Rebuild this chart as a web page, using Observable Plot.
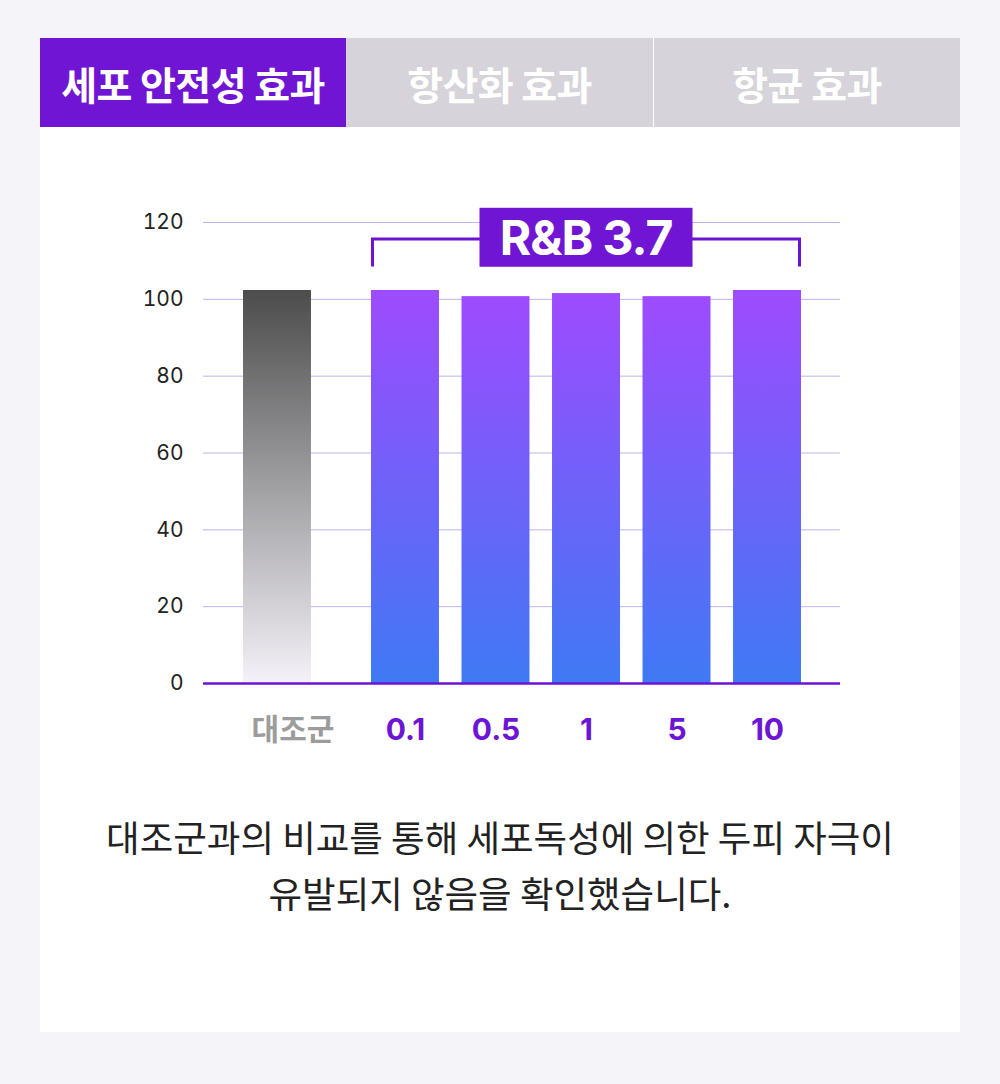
<!DOCTYPE html>
<html><head><meta charset="utf-8">
<script src="https://cdn.jsdelivr.net/npm/d3@7"></script>
<script src="https://cdn.jsdelivr.net/npm/@observablehq/plot@0.6"></script>
<style>
html,body{margin:0;padding:0;background:#f5f4f9;}
body{width:1000px;height:1084px;position:relative;font-family:Inter,"Noto Sans CJK KR",sans-serif;overflow:hidden;}
#card{position:absolute;left:40px;top:38px;width:920px;height:994px;background:#fff;}
.tabs{display:flex;height:89px;}
.tab{display:flex;align-items:center;justify-content:center;color:#fff;font-family:"Noto Sans CJK KR",sans-serif;font-weight:700;font-size:39px;letter-spacing:-0.6px;}
.t1{width:306px;background:#7115d4;}
.t2{width:307px;background:#d6d4da;border-right:1px solid #fff;}
.t3{width:306px;background:#d6d4da;}
#chart{position:absolute;left:0;top:150px;}
#caption{position:absolute;left:0;top:771px;width:920px;text-align:center;font-family:"Noto Sans CJK KR",sans-serif;font-size:36.5px;line-height:56px;color:#222;letter-spacing:0px;}
</style></head>
<body>
<div id="card">
  <div class="tabs" id="tabs"></div>
  <div id="chart"></div>
  <div id="caption"></div>
</div>
<script>
const tabLabels = ["세포 안전성 효과", "항산화 효과", "항균 효과"];
const categories = ["대조군", "0.1", "0.5", "1", "5", "10"];
const values = [102.3, 102.3, 100.7, 101.5, 100.7, 102.3];
const yTicks = [0, 20, 40, 60, 80, 100, 120];
const bracketLabel = "R&B 3.7";
const captionLines = ["대조군과의 비교를 통해 세포독성에 의한 두피 자극이", "유발되지 않음을 확인했습니다."];

const tabs = document.getElementById("tabs");
tabLabels.forEach((t, i) => {
  const d = document.createElement("div");
  d.className = "tab t" + (i + 1);
  d.textContent = t;
  tabs.appendChild(d);
});
document.getElementById("caption").innerHTML = captionLines.join("<br>");

const data = categories.map((c, i) => ({cat: c, v: values[i], control: i === 0}));
const control = data.filter(d => d.control);
const treated = data.filter(d => !d.control);

const plot = Plot.plot({
  width: 920,
  height: 560,
  marginLeft: 163,
  marginRight: 120,
  marginTop: 34,
  marginBottom: 65,
  style: {background: "transparent", fontFamily: "Inter, 'Noto Sans CJK KR', sans-serif"},
  x: {type: "band", domain: categories, range: [240.5, 761], paddingInner: 0.249, paddingOuter: 0, round: false, axis: null},
  y: {domain: [0, 120], ticks: yTicks, label: null},
  marks: [
    Plot.ruleY(yTicks.slice(1), {stroke: "#bdb2ef", strokeWidth: 1}),
    Plot.barY(control, {x: "cat", y: "v", fill: "url(#gGray)", dx: -37.5}),
    Plot.barY(treated, {x: "cat", y: "v", fill: "url(#gPurple)"}),
    Plot.ruleY([0], {stroke: "#6c12d4", strokeWidth: 2.4}),
    Plot.axisY({ticks: yTicks, tickSize: 0, tickPadding: 20, fontSize: 21, color: "#222", label: null, tickFormat: d => String(d)}),
    Plot.text(control, {x: "cat", y: 0, dy: 47, dx: -22, text: "cat", fill: "#9c9c9c", fontSize: 30, fontWeight: 700, fontFamily: "'Noto Sans CJK KR', sans-serif"}),
    Plot.text(treated, {x: "cat", y: 0, dy: 47, text: "cat", fill: "#6c15d4", fontSize: 30, fontWeight: 700})
  ]
});
document.getElementById("chart").appendChild(plot);

const svg = d3.select(plot);
const defs = svg.insert("defs", ":first-child");
const g1 = defs.append("linearGradient").attr("id", "gPurple").attr("x1", 0).attr("y1", 0).attr("x2", 0).attr("y2", 1);
g1.append("stop").attr("offset", "0%").attr("stop-color", "#9e4bfe");
g1.append("stop").attr("offset", "100%").attr("stop-color", "#3f79f4");
const g2 = defs.append("linearGradient").attr("id", "gGray").attr("x1", 0).attr("y1", 0).attr("x2", 0).attr("y2", 1);
g2.append("stop").attr("offset", "0%").attr("stop-color", "#4c4c4c");
g2.append("stop").attr("offset", "100%").attr("stop-color", "#f4f2f8");

// bracket over treated group
const xs = plot.scale("x"), ys = plot.scale("y");
const bw = xs.bandwidth;
const xl = xs.apply(treated[0].cat) + 1.5;
const xr = xs.apply(treated[treated.length - 1].cat) + bw - 1.5;
const yTop = ys.apply(115.6), yBot = ys.apply(108.4);
svg.append("path")
  .attr("d", `M${xl},${yBot}V${yTop}H${xr}V${yBot}`)
  .attr("fill", "none").attr("stroke", "#6c14d2").attr("stroke-width", 3);
const cx = (xs.apply(treated[0].cat) + xs.apply(treated[treated.length - 1].cat) + bw) / 2;
const boxW = 213, boxH = 59;
const boxY = ys.apply(123.7);
svg.append("rect").attr("x", cx - boxW / 2).attr("y", boxY).attr("width", boxW).attr("height", boxH).attr("fill", "#7115d4");
svg.append("text").attr("x", cx).attr("y", boxY + boxH / 2).attr("dy", "0.36em")
  .attr("text-anchor", "middle").attr("fill", "#fff")
  .attr("font-family", "Inter, sans-serif").attr("font-weight", 700).attr("font-size", 48).attr("letter-spacing", -1)
  .text(bracketLabel);
</script>
</body></html>
